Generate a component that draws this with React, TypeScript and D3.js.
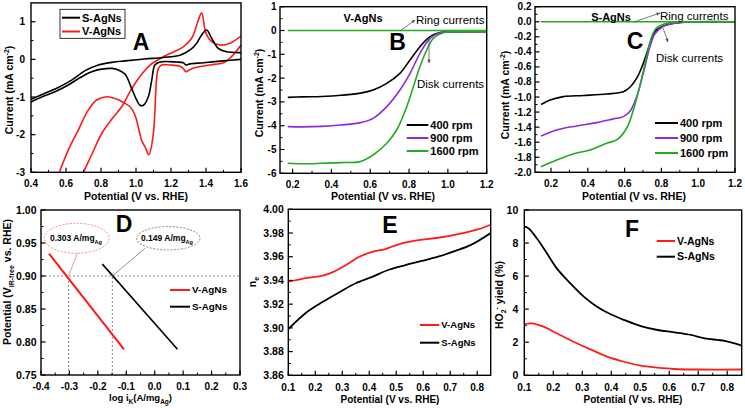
import React from 'react';
import * as d3 from 'd3';

type P = [number, number];

// ---------- Panel A data (CV) ----------
const aS_anodic: P[] = [[0.4,-1.06],[0.48,-0.9],[0.556,-0.745],[0.632,-0.55],[0.709,-0.3],[0.785,-0.15],[0.861,-0.08],[0.937,-0.04],[1.05,0.01],[1.156,0.05],[1.251,0.11],[1.309,0.25],[1.347,0.43],[1.375,0.65],[1.404,0.78],[1.432,0.56],[1.47,0.29],[1.518,0.2],[1.6,0.18]];
const aS_cathodic: P[] = [[1.6,0.0],[1.499,-0.04],[1.385,-0.09],[1.309,-0.12],[1.286,-0.15],[1.27,-0.09],[1.232,-0.07],[1.137,-0.07],[1.108,-0.15],[1.09,-0.55],[1.07,-1.0],[1.042,-1.22],[1.023,-1.22],[1.0,-1.04],[0.975,-0.77],[0.937,-0.39],[0.899,-0.28],[0.861,-0.24],[0.804,-0.26],[0.747,-0.33],[0.69,-0.46],[0.613,-0.68],[0.537,-0.86],[0.461,-1.0],[0.4,-1.13]];
const aV_anodic: P[] = [[0.699,-3],[0.75,-2.5],[0.804,-1.97],[0.86,-1.6],[0.918,-1.26],[0.966,-0.85],[1.0,-0.6],[1.04,-0.35],[1.08,-0.15],[1.156,0.07],[1.27,0.33],[1.318,0.56],[1.356,1.04],[1.375,1.24],[1.4,0.69],[1.432,0.47],[1.48,0.38],[1.537,0.43],[1.6,0.62]];
const aV_cathodic: P[] = [[1.6,0.38],[1.537,0.03],[1.499,-0.09],[1.423,-0.15],[1.347,-0.21],[1.309,-0.27],[1.286,-0.33],[1.27,-0.24],[1.251,-0.18],[1.194,-0.15],[1.147,-0.15],[1.128,-0.24],[1.118,-0.5],[1.099,-1.97],[1.074,-2.53],[1.051,-2.32],[1.032,-2.15],[1.013,-1.79],[0.994,-1.48],[0.966,-1.26],[0.937,-1.17],[0.88,-1.04],[0.833,-0.995],[0.775,-1.08],[0.727,-1.35],[0.67,-1.88],[0.613,-2.41],[0.562,-3]];
const aXTicks = [0.4,0.6,0.8,1.0,1.2,1.4,1.6];
const aYTicks = [-3,-2,-1,0,1];

// ---------- Panel B data (V-AgNs RRDE) ----------
const b400: P[] = [[0.175,-2.81],[0.25,-2.79],[0.35,-2.77],[0.45,-2.72],[0.55,-2.63],[0.615,-2.5],[0.685,-2.22],[0.753,-1.8],[0.805,-1.24],[0.856,-0.68],[0.908,-0.26],[0.959,-0.09],[1.03,-0.05],[1.1,-0.05],[1.2,-0.05]];
const b900: P[] = [[0.175,-4.04],[0.25,-4.05],[0.35,-4.03],[0.45,-3.97],[0.55,-3.87],[0.615,-3.69],[0.685,-3.2],[0.753,-2.5],[0.805,-1.8],[0.856,-0.96],[0.908,-0.33],[0.959,-0.09],[1.03,-0.05],[1.1,-0.05],[1.2,-0.05]];
const b1600: P[] = [[0.175,-5.58],[0.25,-5.6],[0.35,-5.58],[0.45,-5.55],[0.547,-5.51],[0.615,-5.23],[0.685,-4.74],[0.736,-4.18],[0.788,-3.2],[0.822,-2.36],[0.856,-1.52],[0.891,-0.82],[0.925,-0.33],[0.976,-0.09],[1.04,-0.05],[1.2,-0.05]];
const bRing: P[] = [[0.175,0],[1.2,0]];
const bXTicks = [0.2,0.4,0.6,0.8,1.0,1.2];
const bYTicks = [-6,-5,-4,-3,-2,-1,0,1];

// ---------- Panel C data (S-AgNs RRDE) ----------
const c400: P[] = [[0.146,-1.1],[0.195,-1.04],[0.267,-0.995],[0.376,-0.98],[0.503,-0.96],[0.593,-0.93],[0.629,-0.87],[0.666,-0.75],[0.702,-0.55],[0.738,-0.29],[0.765,-0.13],[0.802,-0.066],[0.847,-0.03],[0.919,-0.007],[1.0,0],[1.2,0]];
const c900: P[] = [[0.146,-1.517],[0.231,-1.437],[0.34,-1.384],[0.448,-1.34],[0.539,-1.29],[0.593,-1.26],[0.629,-1.19],[0.666,-0.995],[0.702,-0.68],[0.738,-0.33],[0.765,-0.16],[0.81,-0.06],[0.86,-0.025],[0.93,-0.005],[1.0,0],[1.2,0]];
const c1600: P[] = [[0.146,-1.925],[0.231,-1.836],[0.321,-1.756],[0.412,-1.703],[0.503,-1.614],[0.557,-1.57],[0.611,-1.415],[0.648,-1.17],[0.684,-0.84],[0.72,-0.46],[0.747,-0.2],[0.774,-0.08],[0.83,-0.02],[0.9,-0.003],[1.0,0],[1.2,0]];
const cRing: P[] = [[0.146,0],[1.2,0]];
const cXTicks = [0.2,0.4,0.6,0.8,1.0,1.2];
const cYTicks = [-2.0,-1.8,-1.6,-1.4,-1.2,-1.0,-0.8,-0.6,-0.4,-0.2,0.0,0.2];

// ---------- Panel D data (Tafel / mass activity) ----------
const dV: P[] = [[-0.372,0.934],[-0.108,0.789]];
const dS: P[] = [[-0.184,0.918],[0.08,0.789]];
const dMarkX = [-0.303, -0.149];
const dMarkY = 0.9;
const dXTicks = [-0.4,-0.3,-0.2,-0.1,0.0,0.1,0.2,0.3];
const dYTicks = [0.75,0.8,0.85,0.9,0.95,1.0];

// ---------- Panel E data (electron transfer number) ----------
const eV: P[] = [[0.1,3.939],[0.167,3.942],[0.228,3.944],[0.265,3.947],[0.314,3.953],[0.363,3.96],[0.411,3.964],[0.46,3.9665],[0.509,3.9705],[0.582,3.974],[0.655,3.976],[0.729,3.979],[0.802,3.983],[0.85,3.987]];
const eS: P[] = [[0.1,3.899],[0.167,3.913],[0.228,3.922],[0.289,3.93],[0.35,3.9376],[0.411,3.943],[0.472,3.949],[0.534,3.953],[0.594,3.9564],[0.655,3.96],[0.717,3.9648],[0.777,3.97],[0.85,3.98]];
const eXTicks = [0.1,0.2,0.3,0.4,0.5,0.6,0.7,0.8];
const eYTicks = [3.86,3.88,3.9,3.92,3.94,3.96,3.98,4.0];

// ---------- Panel F data (HO2- yield) ----------
const fV: P[] = [[0.1,3.08],[0.126,3.14],[0.166,2.94],[0.212,2.54],[0.27,2.03],[0.328,1.57],[0.386,1.13],[0.444,0.82],[0.502,0.58],[0.56,0.46],[0.617,0.38],[0.7,0.35],[0.85,0.35]];
const fS: P[] = [[0.1,8.99],[0.114,8.9],[0.143,8.29],[0.178,7.38],[0.212,6.47],[0.259,5.56],[0.305,4.76],[0.351,4.15],[0.398,3.69],[0.444,3.35],[0.502,2.98],[0.56,2.74],[0.617,2.6],[0.675,2.44],[0.722,2.24],[0.791,2.08],[0.85,1.8]];
const fXTicks = [0.1,0.2,0.3,0.4,0.5,0.6,0.7,0.8];
const fYTicks = [0,2,4,6,8,10];

const FONT = "'Liberation Sans', Arial, Helvetica, sans-serif";
const RED = '#ff1a1a';
const VIOLET = '#8a2be2';
const GREEN = '#22aa22';

const mids = (t: number[]) => d3.pairs(t).map(([a, b]) => (a + b) / 2);

type Sc = d3.ScaleLinear<number, number>;

function Axes({ xs, ys, xt, yt, xf, yf, xOff, yGap, fsx, fsy }: {
  xs: Sc; ys: Sc; xt: number[]; yt: number[]; xf: (v: number) => string; yf: (v: number) => string;
  xOff: number; yGap: number; fsx: number; fsy: number;
}) {
  const [L, R] = xs.range();
  const [B, T] = ys.range();
  const xm = mids(xt).filter(v => xs(v) > L && xs(v) < R);
  const ym = mids(yt).filter(v => ys(v) < B && ys(v) > T);
  return (
    <g fontFamily={FONT} fontWeight="bold">
      {xm.map((t, i) => <line key={'xm' + i} x1={xs(t)} x2={xs(t)} y1={B} y2={B - 2.5} stroke="#000" strokeWidth={1} />)}
      {ym.map((t, i) => <line key={'ym' + i} x1={L} x2={L + 2.5} y1={ys(t)} y2={ys(t)} stroke="#000" strokeWidth={1} />)}
      {xt.map((t, i) => (
        <g key={'xt' + i}>
          <line x1={xs(t)} x2={xs(t)} y1={B} y2={B - 4.5} stroke="#000" strokeWidth={1.2} />
          <text x={xs(t)} y={B + xOff} textAnchor="middle" fontSize={fsx}>{xf(t)}</text>
        </g>
      ))}
      {yt.map((t, i) => (
        <g key={'yt' + i}>
          <line x1={L} x2={L + 4.5} y1={ys(t)} y2={ys(t)} stroke="#000" strokeWidth={1.2} />
          <text x={L - yGap} y={ys(t)} dy="0.35em" textAnchor="end" fontSize={fsy}>{yf(t)}</text>
        </g>
      ))}
      <rect x={L} y={T} width={R - L} height={B - T} fill="none" stroke="#000" strokeWidth={1.4} />
    </g>
  );
}

function Curve({ data, xs, ys, color, w = 1.6, linear = false, clip }: { data: P[]; xs: Sc; ys: Sc; color: string; w?: number; linear?: boolean; clip?: string }) {
  const gen = d3.line<P>().x(d => xs(d[0])).y(d => ys(d[1])).curve(linear ? d3.curveLinear : d3.curveCatmullRom.alpha(0.5));
  return <path d={gen(data) || ''} fill="none" stroke={color} strokeWidth={w} strokeLinejoin="round" clipPath={clip ? `url(#${clip})` : undefined} />;
}

function Clip({ id, xs, ys }: { id: string; xs: Sc; ys: Sc }) {
  const [L, R] = xs.range();
  const [B, T] = ys.range();
  return <clipPath id={id}><rect x={L} y={T} width={R - L} height={B - T} /></clipPath>;
}

function LegendRow({ x, y, len, color, label, fs }: { x: number; y: number; len: number; color: string; label: string; fs: number }) {
  return (
    <g>
      <line x1={x} x2={x + len} y1={y} y2={y} stroke={color} strokeWidth={2} />
      <text x={x + len + 2} y={y} dy="0.35em" fontFamily={FONT} fontWeight="bold" fontSize={fs}>{label}</text>
    </g>
  );
}

function YTitle({ x, y, children, fs = 10.5 }: { x: number; y: number; children: React.ReactNode; fs?: number }) {
  return (
    <text transform={`translate(${x},${y}) rotate(-90)`} textAnchor="middle" dy="0.35em" fontFamily={FONT} fontWeight="bold" fontSize={fs}>{children}</text>
  );
}

function XTitle({ x, y, children, fs = 10.5 }: { x: number; y: number; children: React.ReactNode; fs?: number }) {
  return <text x={x} y={y} textAnchor="middle" fontFamily={FONT} fontWeight="bold" fontSize={fs}>{children}</text>;
}

function Letter({ x, y, t }: { x: number; y: number; t: string }) {
  return <text x={x} y={y} textAnchor="middle" fontFamily={FONT} fontWeight="bold" fontSize={23}>{t}</text>;
}

const CurrentTitle = () => (
  <>Current (mA cm<tspan dy="-4" fontSize="7">-2</tspan><tspan dy="4">)</tspan></>
);

export default function App() {
  // Panel scales
  const axA = d3.scaleLinear().domain([0.4, 1.6]).range([31, 241]);
  const ayA = d3.scaleLinear().domain([-3, 1.5]).range([172.3, 2.9]);
  const axB = d3.scaleLinear().domain([0.135, 1.2]).range([280, 486.7]);
  const ayB = d3.scaleLinear().domain([-6, 1]).range([173.3, 6.7]);
  const axC = d3.scaleLinear().domain([0.113, 1.2]).range([535, 735]);
  const ayC = d3.scaleLinear().domain([-2, 0.2]).range([172.3, 6.7]);
  const axD = d3.scaleLinear().domain([-0.4, 0.3]).range([41, 240]);
  const ayD = d3.scaleLinear().domain([0.75, 1.0]).range([375, 210]);
  const axE = d3.scaleLinear().domain([0.1, 0.85]).range([288.3, 490.7]);
  const ayE = d3.scaleLinear().domain([3.86, 4.0]).range([375.3, 209.3]);
  const axF = d3.scaleLinear().domain([0.1, 0.85]).range([524.3, 741.7]);
  const ayF = d3.scaleLinear().domain([0, 10]).range([375.3, 210]);

  const f1 = (v: number) => v.toFixed(1);
  const f2 = (v: number) => v.toFixed(2);
  const f0 = (v: number) => v.toFixed(0);

  return (
    <svg width={745} height={408} style={{ position: 'absolute', left: 0, top: 0, background: '#fff' }}>
      <defs>
        <Clip id="cA" xs={axA} ys={ayA} />
        <Clip id="cB" xs={axB} ys={ayB} />
        <Clip id="cC" xs={axC} ys={ayC} />
        <Clip id="cD" xs={axD} ys={ayD} />
        <Clip id="cE" xs={axE} ys={ayE} />
        <Clip id="cF" xs={axF} ys={ayF} />
        <marker id="arr" viewBox="0 0 10 10" refX="9" refY="5" markerWidth="5" markerHeight="5" orient="auto">
          <path d="M0,1 L10,5 L0,9 z" fill="#555" />
        </marker>
      </defs>
      <rect x={0} y={0} width={745} height={408} fill="#fff" />

      {/* ================= Panel A ================= */}
      <Curve data={aV_anodic} xs={axA} ys={ayA} color={RED} clip="cA" />
      <Curve data={aV_cathodic} xs={axA} ys={ayA} color={RED} clip="cA" />
      <Curve data={aS_anodic} xs={axA} ys={ayA} color="#000" clip="cA" />
      <Curve data={aS_cathodic} xs={axA} ys={ayA} color="#000" clip="cA" />
      <Axes xs={axA} ys={ayA} xt={aXTicks} yt={aYTicks} xf={f1} yf={f0} xOff={15} yGap={6} fsx={10} fsy={10} />
      <rect x={60} y={9.3} width={65} height={29} fill="#fff" stroke="#000" strokeWidth={0.8} />
      <LegendRow x={62} y={17.7} len={18} color="#000" label="S-AgNs" fs={11} />
      <LegendRow x={62} y={31.5} len={18} color={RED} label="V-AgNs" fs={11} />
      <Letter x={141} y={50} t="A" />
      <YTitle x={9} y={90}><CurrentTitle /></YTitle>
      <XTitle x={136} y={200}>Potential (V vs. RHE)</XTitle>

      {/* ================= Panel B ================= */}
      <Curve data={b400} xs={axB} ys={ayB} color="#000" clip="cB" />
      <Curve data={b900} xs={axB} ys={ayB} color={VIOLET} clip="cB" />
      <Curve data={b1600} xs={axB} ys={ayB} color={GREEN} clip="cB" />
      <Curve data={bRing} xs={axB} ys={ayB} color={GREEN} linear clip="cB" />
      <Axes xs={axB} ys={ayB} xt={bXTicks} yt={bYTicks} xf={f1} yf={f0} xOff={15} yGap={3.5} fsx={10} fsy={10} />
      <text x={363} y={22} textAnchor="middle" fontFamily={FONT} fontWeight="bold" fontSize={11}>V-AgNs</text>
      <text x={416} y={24} fontFamily={FONT} fontSize={11.5}>Ring currents</text>
      <line x1={400} y1={31} x2={415} y2={20} stroke="#555" strokeWidth={0.8} markerEnd="url(#arr)" />
      <Letter x={397.5} y={49.5} t="B" />
      <text x={417} y={88} fontFamily={FONT} fontSize={11.5}>Disk currents</text>
      <line x1={429} y1={38} x2={429} y2={63} stroke="#555" strokeWidth={0.8} markerEnd="url(#arr)" />
      <LegendRow x={406.7} y={125} len={21.6} color="#000" label="400 rpm" fs={11} />
      <LegendRow x={406.7} y={138} len={21.6} color={VIOLET} label="900 rpm" fs={11} />
      <LegendRow x={406.7} y={151} len={21.6} color={GREEN} label="1600 rpm" fs={11} />
      <YTitle x={259} y={93}><CurrentTitle /></YTitle>
      <XTitle x={383} y={200}>Potential (V vs. RHE)</XTitle>

      {/* ================= Panel C ================= */}
      <Curve data={c400} xs={axC} ys={ayC} color="#000" clip="cC" />
      <Curve data={c900} xs={axC} ys={ayC} color={VIOLET} clip="cC" />
      <Curve data={c1600} xs={axC} ys={ayC} color={GREEN} clip="cC" />
      <Curve data={cRing} xs={axC} ys={ayC} color={GREEN} linear clip="cC" />
      <Axes xs={axC} ys={ayC} xt={cXTicks} yt={cYTicks} xf={f1} yf={f1} xOff={15} yGap={3.5} fsx={10} fsy={10} />
      <text x={611} y={20.5} textAnchor="middle" fontFamily={FONT} fontWeight="bold" fontSize={11}>S-AgNs</text>
      <text x={660} y={20} fontFamily={FONT} fontSize={11.5}>Ring currents</text>
      <line x1={634} y1={22} x2={660} y2={13} stroke="#555" strokeWidth={0.8} markerEnd="url(#arr)" />
      <Letter x={635} y={48.5} t="C" />
      <text x={656} y={61.5} fontFamily={FONT} fontSize={11.5}>Disk currents</text>
      <line x1={663} y1={28} x2={668} y2={42} stroke="#555" strokeWidth={0.8} markerEnd="url(#arr)" />
      <LegendRow x={655} y={123} len={23} color="#000" label="400 rpm" fs={11} />
      <LegendRow x={655} y={138} len={23} color={VIOLET} label="900 rpm" fs={11} />
      <LegendRow x={655} y={153} len={23} color={GREEN} label="1600 rpm" fs={11} />
      <YTitle x={505} y={95}><CurrentTitle /></YTitle>
      <XTitle x={634} y={200}>Potential (V vs. RHE)</XTitle>

      {/* ================= Panel D ================= */}
      <line x1={axD(-0.4)} x2={axD(0.3)} y1={ayD(dMarkY)} y2={ayD(dMarkY)} stroke="#888" strokeWidth={1} strokeDasharray="2,2" />
      {dMarkX.map((v, i) => (
        <line key={'dm' + i} x1={axD(v)} x2={axD(v)} y1={ayD(0.75)} y2={ayD(dMarkY)} stroke="#888" strokeWidth={1} strokeDasharray="2,2" />
      ))}
      <Curve data={dV} xs={axD} ys={ayD} color={RED} w={2} linear clip="cD" />
      <Curve data={dS} xs={axD} ys={ayD} color="#000" w={1.6} linear clip="cD" />
      <Axes xs={axD} ys={ayD} xt={dXTicks} yt={dYTicks} xf={f1} yf={f2} xOff={14.5} yGap={4.5} fsx={10} fsy={10.5} />
      <ellipse cx={76.7} cy={238.3} rx={32.5} ry={15} fill="none" stroke="#f08080" strokeWidth={0.9} strokeDasharray="2,1.5" />
      <line x1={77.3} y1={253.3} x2={axD(dMarkX[0])} y2={ayD(dMarkY)} stroke="#f08080" strokeWidth={0.8} />
      <text x={76} y={241} textAnchor="middle" fontFamily={FONT} fontWeight="bold" fontSize={8.5}>0.303 A/mg<tspan dy="2.5" fontSize="5.5">Ag</tspan></text>
      <ellipse cx={168.3} cy={238.3} rx={31.7} ry={11.7} fill="none" stroke="#777" strokeWidth={0.9} strokeDasharray="2,1.5" />
      <line x1={145} y1={248.3} x2={axD(dMarkX[1])} y2={ayD(dMarkY)} stroke="#777" strokeWidth={0.8} />
      <text x={167} y={241} textAnchor="middle" fontFamily={FONT} fontWeight="bold" fontSize={8.5}>0.149 A/mg<tspan dy="2.5" fontSize="5.5">Ag</tspan></text>
      <Letter x={124} y={231.5} t="D" />
      <LegendRow x={170} y={290} len={20} color={RED} label="V-AgNs" fs={9.8} />
      <LegendRow x={170} y={306.7} len={20} color="#000" label="S-AgNs" fs={9.8} />
      <YTitle x={7} y={282}>Potential (V<tspan dy="3" fontSize="7">iR-free</tspan><tspan dy="-3"> vs. RHE)</tspan></YTitle>
      <XTitle x={140.5} y={400.5} fs={9.5}>log i<tspan dy="3" fontSize="6.5">K</tspan><tspan dy="-3">(A/mg</tspan><tspan dy="3" fontSize="6.5">Ag</tspan><tspan dy="-3">)</tspan></XTitle>

      {/* ================= Panel E ================= */}
      <Curve data={eV} xs={axE} ys={ayE} color={RED} w={1.8} clip="cE" />
      <Curve data={eS} xs={axE} ys={ayE} color="#000" w={1.8} clip="cE" />
      <Axes xs={axE} ys={ayE} xt={eXTicks} yt={eYTicks} xf={f1} yf={f2} xOff={15.5} yGap={4.5} fsx={10} fsy={10.5} />
      <Letter x={390} y={233.3} t="E" />
      <LegendRow x={420} y={325} len={19.3} color={RED} label="V-AgNs" fs={9.5} />
      <LegendRow x={420} y={342.7} len={19.3} color="#000" label="S-AgNs" fs={9.5} />
      <YTitle x={252} y={282}>n<tspan dy="3" fontSize="7">e</tspan></YTitle>
      <XTitle x={390} y={402.5} fs={10}>Potential (V vs. RHE)</XTitle>

      {/* ================= Panel F ================= */}
      <Curve data={fV} xs={axF} ys={ayF} color={RED} w={1.8} clip="cF" />
      <Curve data={fS} xs={axF} ys={ayF} color="#000" w={1.8} clip="cF" />
      <Axes xs={axF} ys={ayF} xt={fXTicks} yt={fYTicks} xf={f1} yf={f0} xOff={15.5} yGap={6} fsx={10} fsy={10.5} />
      <Letter x={632} y={236.7} t="F" />
      <LegendRow x={656.7} y={241} len={18.3} color={RED} label="V-AgNs" fs={10.5} />
      <LegendRow x={656.7} y={256.7} len={18.3} color="#000" label="S-AgNs" fs={10.5} />
      <YTitle x={499} y={295}>HO<tspan dy="3" fontSize="7">2</tspan><tspan dy="-7" fontSize="7">-</tspan><tspan dy="4"> yield (%)</tspan></YTitle>
      <XTitle x={633} y={402.5} fs={10}>Potential (V vs. RHE)</XTitle>
    </svg>
  );
}
